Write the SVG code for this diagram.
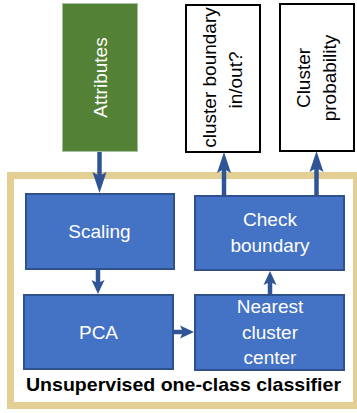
<svg xmlns="http://www.w3.org/2000/svg" width="357" height="413" viewBox="0 0 357 413">
<style>
  .t { font-family: "Liberation Sans", Arial, sans-serif; font-size: 19px; text-anchor: middle; }
  .w { fill: #ffffff; }
  .k { fill: #000000; }
  .blue { fill: #4472C4; stroke: #2F528F; stroke-width: 2; }
  .out { fill: #ffffff; stroke: #000000; stroke-width: 2; }
  .c { fill: none; stroke: #2F5597; stroke-width: 4.5; }
  .cl { marker-end: url(#headL); }
  .cs { marker-end: url(#headS); }
</style>
<defs>
  <marker id="headL" markerUnits="userSpaceOnUse" markerWidth="22" markerHeight="15" refX="11" refY="7" orient="auto" overflow="visible">
    <path d="M0,0 L21,7 L0,14 L4,7 Z" fill="#2F5597"/>
  </marker>
  <marker id="headS" markerUnits="userSpaceOnUse" markerWidth="15" markerHeight="14" refX="7" refY="6.5" orient="auto" overflow="visible">
    <path d="M0,0 L14,6.5 L0,13 L3,6.5 Z" fill="#2F5597"/>
  </marker>
</defs>

<g id="classifier">
  <rect x="10.5" y="175.5" width="346" height="230" fill="#ffffff" stroke="#E3CF94" stroke-width="7"/>
  <text class="t k" x="183.5" y="391" font-size="18" font-weight="bold" textLength="315" lengthAdjust="spacingAndGlyphs">Unsupervised one-class classifier</text>
</g>

<g id="attributes">
  <rect x="62.5" y="3.5" width="75" height="148" fill="#538135" stroke="#A8BFA0" stroke-width="1"/>
  <text class="t w" transform="translate(107,77.5) rotate(-90)">Attributes</text>
</g>

<g id="out-inout">
  <rect x="186" y="5" width="74" height="147" class="out"/>
  <text class="t k" transform="rotate(-90 0 0)" x="-77.5" y="215.5">cluster boundary</text>
  <text class="t k" transform="rotate(-90 0 0)" x="-80" y="241.5">in/out?</text>
</g>

<g id="out-prob">
  <rect x="280" y="4" width="74" height="147" class="out"/>
  <text class="t k" transform="rotate(-90 0 0)" x="-78" y="310">Cluster</text>
  <text class="t k" transform="rotate(-90 0 0)" x="-78" y="336">probability</text>
</g>

<g id="scaling">
  <rect x="26" y="194" width="148" height="75" class="blue"/>
  <text class="t w" x="99.5" y="238" font-size="18">Scaling</text>
</g>

<g id="pca">
  <rect x="24" y="295" width="149" height="74" class="blue"/>
  <text class="t w" x="98.5" y="338.5" font-size="17">PCA</text>
</g>

<g id="check">
  <rect x="195" y="196" width="149" height="74" class="blue"/>
  <text class="t w" x="270" y="226" font-size="18.5">Check</text>
  <text class="t w" x="270" y="252">boundary</text>
</g>

<g id="nearest">
  <rect x="195" y="295" width="149" height="75" class="blue"/>
  <text class="t w" x="270" y="313">Nearest</text>
  <text class="t w" x="270" y="338.5">cluster</text>
  <text class="t w" x="270" y="364">center</text>
</g>

<g id="connectors">
  <path class="c cl" d="M99.5,152 L99.5,183"/>
  <path class="c cs" d="M98,270 L98,287"/>
  <path class="c cs" d="M174,332 L187,332"/>
  <path class="c cs" d="M270,294 L270,278"/>
  <path class="c cl" d="M224,195 L224,162"/>
  <path class="c cl" d="M316.5,195 L316.5,161"/>
</g>
</svg>
